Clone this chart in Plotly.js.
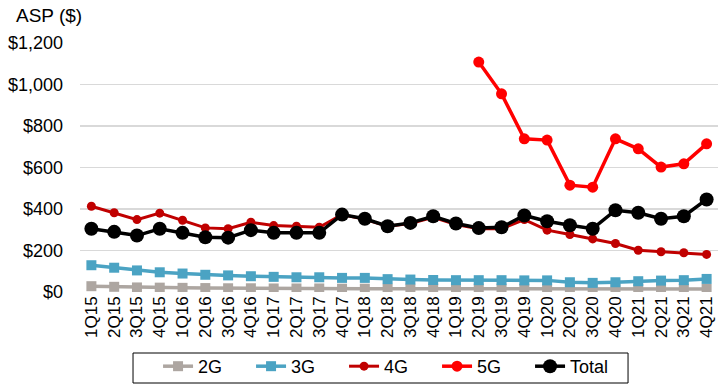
<!DOCTYPE html>
<html>
<head>
<meta charset="utf-8">
<script src="https://cdn.plot.ly/plotly-3.0.1.min.js"></script>
<style>html,body{margin:0;padding:0;background:#fff;}#chart{width:725px;height:391px;}</style>
</head>
<body>
<div id="chart"></div>
<script>
const quarters = ["1Q15","2Q15","3Q15","4Q15","1Q16","2Q16","3Q16","4Q16","1Q17","2Q17","3Q17","4Q17","1Q18","2Q18","3Q18","4Q18","1Q19","2Q19","3Q19","4Q19","1Q20","2Q20","3Q20","4Q20","1Q21","2Q21","3Q21","4Q21"];
const asp2G = [28,25,22,21,20,19,18,18,17,17,17,16,16,16,16,16,16,16,16,15,15,15,15,15,15,15,15,15];
const asp3G = [129,117,104,95,89,83,80,76,73,71,71,68,68,62,60,58,57,57,57,56,56,47,44,47,52,55,57,63];
const asp4G = [413,382,349,380,346,309,305,336,320,317,312,373,350,317,330,360,325,305,305,349,298,277,256,234,201,194,189,181];
const asp5G = [null,null,null,null,null,null,null,null,null,null,null,null,null,null,null,null,null,1108,955,738,732,515,505,738,690,602,618,714];
const aspTotal = [305,290,272,305,285,264,262,298,285,285,285,373,353,317,333,365,330,308,312,369,341,322,305,394,382,353,365,446];
const yTickVals = [0,200,400,600,800,1000,1200];
const yTickText = ["$0","$200","$400","$600","$800","$1,000","$1,200"];

const font = "Liberation Sans, Arial, sans-serif";
function tr(name, y, color, symbol, size, width){
  return {x: quarters, y: y, name: name, type: "scatter", mode: "lines+markers",
    line: {color: color, width: width}, marker: {color: color, symbol: symbol, size: size},
    connectgaps: false};
}
const data = [
  tr("2G", asp2G, "#ADA6A1", "square", 10, 3.5),
  tr("3G", asp3G, "#4BA3C3", "square", 10, 3.5),
  tr("4G", asp4G, "#C00000", "circle", 9, 3),
  tr("5G", asp5G, "#FF0000", "circle", 11, 3.5),
  tr("Total", aspTotal, "#000000", "circle", 14, 3.5)
];
const layout = {
  width: 725, height: 391,
  margin: {l: 80, r: 7, t: 43, b: 99},
  paper_bgcolor: "#fff", plot_bgcolor: "#fff",
  font: {family: font, color: "#000"},
  showlegend: true,
  legend: {orientation: "h", xref: "container", yref: "container", x: 0.218, xanchor: "left", y: 0.110, yanchor: "top",
    bgcolor: "rgba(0,0,0,0)", borderwidth: 0, font: {size: 18, family: font},
    entrywidth: 48, entrywidthmode: "pixels", traceorder: "normal"},
  xaxis: {type: "category", range: [-0.5, 27.5], tickangle: -90, tickfont: {size: 17, family: font},
    showgrid: false, zeroline: false, showline: false, ticks: "", fixedrange: true, automargin: false},
  yaxis: {range: [0, 1200], tickvals: yTickVals, ticktext: yTickText, tickfont: {size: 18, family: font},
    showgrid: true, gridcolor: "#D9D9D9", gridwidth: 1.5, zeroline: false, showline: false, ticks: "",
    ticklabelstandoff: 16, automargin: false},
  shapes: [{type: "rect", xref: "paper", yref: "paper", x0: 0.0831, x1: 0.859, y0: -0.3655, y1: -0.245,
    line: {color: "#000", width: 1}, fillcolor: "rgba(0,0,0,0)", layer: "below"}],
  annotations: [{text: "ASP ($)", xref: "paper", yref: "paper", x: -0.103, y: 1.11, xanchor: "left", yanchor: "middle",
    showarrow: false, font: {size: 19, family: font}}]
};
Plotly.newPlot("chart", data, layout, {displayModeBar: false, staticPlot: true});
</script>
</body>
</html>
